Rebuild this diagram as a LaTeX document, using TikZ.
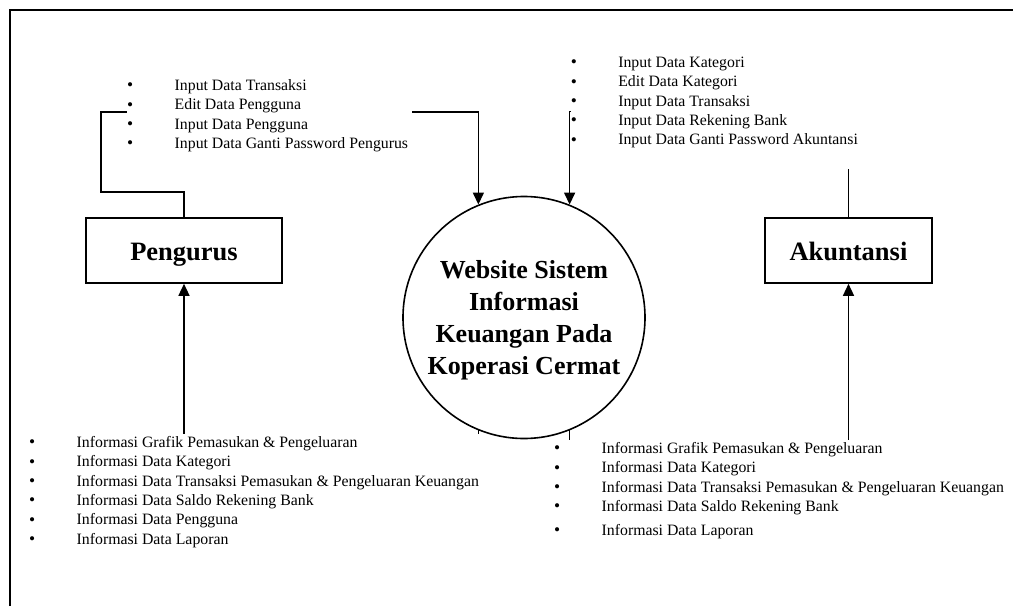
\documentclass[tikz,border=0pt]{standalone}
\usepackage{fontspec}
\setmainfont{Liberation Serif}
\usetikzlibrary{arrows.meta}
\tikzstyle{entitas} = [draw, line width=1.6pt, minimum width=196pt, minimum height=65pt, text height=19pt, text depth=0pt, font=\fontsize{26.5}{30}\selectfont\bfseries]
\tikzstyle{proses} = [draw, circle, line width=1.6pt, minimum size=242pt, inner sep=0pt, align=center, font=\fontsize{26}{32}\selectfont\bfseries]
\tikzstyle{alur} = [draw, line width=1.4pt, -{Triangle[length=12pt, width=11pt]}]
\tikzstyle{keterangan} = [fill=white, inner sep=0pt, anchor=base west, font=\fontsize{15.8}{19.3}\selectfont]
\newcommand{\butir}[2][0pt]{\raisebox{-0.4pt}{\scalebox{1.1}{\textbullet}} & #2\\[#1]}
\newcommand{\daftar}[2]{\begin{tabular}[t]{@{}p{47.5pt}@{}p{#1}@{}}#2\end{tabular}}

\begin{document}
\begin{tikzpicture}[x=1pt, y=-1pt]
		\useasboundingbox (0,0) rectangle (1013,606);
		\draw[line width=1.5pt] (10,606) -- (10,10) -- (1013,10);

		% Draw diagram elements
		\node (sys) [proses] at (524,317.5) {\rule{0pt}{24pt}Website Sistem\\Informasi\\Keuangan Pada\\Koperasi Cermat};
		\path (sys.center)+(-340,-67) node (peng) [entitas] {Pengurus};
		\path (sys.center)+(324.5,-67) node (akun) [entitas, minimum width=167pt] {Akuntansi};

		% Draw arrows between elements
		\path [alur] (peng.north) |- (101,192) -- (101,112) -| (sys.112);
		\path [alur] (akun.north) -- ++(0,-106) -| (sys.68);
		\path [alur] (sys.248) -- ++(0,15) -| (peng.south);
		\path [alur] (sys.292) -- ++(0,15) -| (akun.south);

		% Draw data flow labels
		\node (inPeng) [keterangan] at (127,90.5) {\daftar{237pt}{
			\butir{Input Data Transaksi}
			\butir{Edit Data Pengguna}
			\butir{Input Data Pengguna}
			\butir{Input Data Ganti Password Pengurus}}};
		\node (inAkun) [keterangan, inner ysep=19pt] at (570.6,67.5) {\daftar{290pt}{
			\butir{Input Data Kategori}
			\butir{Edit Data Kategori}
			\butir{Input Data Transaksi}
			\butir{Input Data Rekening Bank}
			\butir{Input Data Ganti Password Akuntansi}}};
		\node (outPeng) [keterangan] at (29,447.5) {\daftar{410pt}{
			\butir{Informasi Grafik Pemasukan \& Pengeluaran}
			\butir{Informasi Data Kategori}
			\butir{Informasi Data Transaksi Pemasukan \& Pengeluaran Keuangan}
			\butir{Informasi Data Saldo Rekening Bank}
			\butir{Informasi Data Pengguna}
			\butir{Informasi Data Laporan}}};
		\node (outAkun) [keterangan] at (554,453.5) {\daftar{410pt}{
			\butir{Informasi Grafik Pemasukan \& Pengeluaran}
			\butir{Informasi Data Kategori}
			\butir{Informasi Data Transaksi Pemasukan \& Pengeluaran Keuangan}
			\butir[4.5pt]{Informasi Data Saldo Rekening Bank}
			\butir{Informasi Data Laporan}}};

	\end{tikzpicture}
\end{document}
